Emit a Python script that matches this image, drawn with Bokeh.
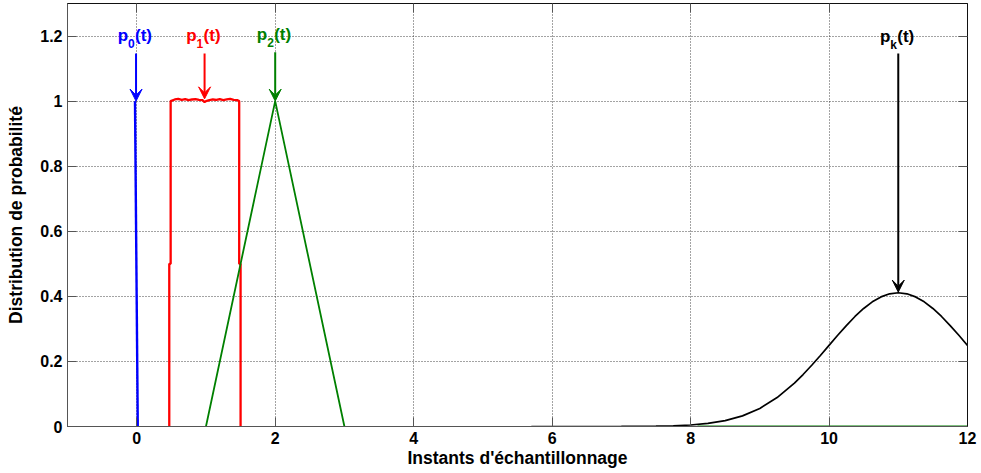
from bokeh.plotting import figure
from bokeh.models import Range1d, FixedTicker, LinearAxis, Arrow, VeeHead
from bokeh.core.properties import value
from bokeh.embed import file_html
from bokeh.resources import INLINE

# ---------------- data ----------------
xticks = [0, 2, 4, 6, 8, 10, 12]
yticks = [0, 0.2, 0.4, 0.6, 0.8, 1, 1.2]
ytick_labels = ["0", "0.2", "0.4", "0.6", "0.8", "1", "1.2"]

# p0(t): narrow spike at t = 0
p0_x = [0.015, -0.025]
p0_y = [0.0, 1.0]

# p1(t): uniform on [0.5, 1.5]
p1_x = [0.47, 0.47, 0.49, 0.49, 0.55, 0.60, 0.65, 0.70, 0.75, 0.80, 0.85, 0.90, 0.95,
        0.98, 1.00, 1.05, 1.10, 1.15, 1.20, 1.25, 1.30, 1.35, 1.40, 1.45, 1.48, 1.48, 1.50, 1.50]
p1_y = [0.0, 0.5, 0.5, 1.0, 1.005, 1.007, 1.004, 1.006, 1.003, 1.005, 1.006, 1.004, 1.003,
        0.997, 1.0, 1.003, 1.005, 1.004, 1.006, 1.003, 1.005, 1.007, 1.004, 1.003, 1.0, 0.5, 0.5, 0.0]

# p2(t): triangle on [1, 3]
p2_x = [1, 2, 3]
p2_y = [0, 1, 0]
p2_tail_x = [8.1, 12]
p2_tail_y = [0, 0]

# pk(t): bell curve around t = 11
pk_x = [5.7, 6.0, 6.5, 7.0, 7.5, 7.75, 8.0, 8.25, 8.5, 8.75, 9.0, 9.25, 9.5, 9.625, 9.75,
        9.875, 10.0, 10.125, 10.25, 10.375, 10.5, 10.625, 10.75, 10.875, 11.0, 11.125,
        11.25, 11.375, 11.5, 11.625, 11.75, 11.875, 12.0]
pk_y = [0.0, 0.0, 0.0, 0.0001, 0.0009, 0.0021, 0.0046, 0.0094, 0.018, 0.0327, 0.0556,
        0.0889, 0.1334, 0.1597, 0.1882, 0.2183, 0.2493, 0.2803, 0.3102, 0.3381, 0.3627,
        0.3831, 0.3983, 0.4078, 0.411, 0.4078, 0.3983, 0.3831, 0.3627, 0.3381, 0.3102,
        0.2803, 0.2493]

# annotations
ann_x = [-0.01, 0.98, 2.0, 11.0]
ann_sub = ["0", "1", "2", "k"]
ann_colors = ["#0000FF", "#FF0000", "#008000", "#000000"]
ann_y_start = [1.146, 1.146, 1.15, 1.146]
ann_y_end = [1.0, 1.007, 1.0, 0.413]
ann_text_y = [1.203, 1.203, 1.205, 1.198]

FONT = "Liberation Sans"

p = figure(width=981, height=473, output_backend="svg", toolbar_location=None,
           x_range=Range1d(-1, 12), y_range=Range1d(0, 1.3),
           min_border_left=67, min_border_right=14, min_border_top=3, min_border_bottom=47)
p.background_fill_color = "white"
p.border_fill_color = "white"
p.outline_line_color = "#111111"
p.outline_line_width = 1

# extra axes for box ticks
p.add_layout(LinearAxis(), "above")
p.add_layout(LinearAxis(), "right")

for ax in p.xaxis:
    ax.ticker = FixedTicker(ticks=xticks)
for ax in p.yaxis:
    ax.ticker = FixedTicker(ticks=yticks)

for ax in list(p.xaxis) + list(p.yaxis):
    ax.major_tick_in = 9
    ax.major_tick_out = 0
    ax.minor_tick_line_color = None
    ax.major_tick_line_color = "#555555"
    ax.axis_line_color = "#555555"
    ax.major_label_text_font = FONT
    ax.major_label_text_font_style = "bold"
    ax.major_label_text_font_size = "16px"
    ax.major_label_text_color = "black"

for ax in (p.above[0], p.right[0]):
    ax.major_label_text_font_size = "0px"
    ax.major_label_standoff = 0
    ax.major_label_overrides = {float(t): "" for t in (xticks if ax in p.above else yticks)}
    ax.axis_line_color = "#111111"

bx = p.below[0]
bx.major_label_standoff = 5
bx.axis_label = "Instants d'échantillonnage"
bx.axis_label_text_font = FONT
bx.axis_label_text_font_style = "bold"
bx.axis_label_text_font_size = "17.5px"
bx.axis_label_standoff = 1
bx.axis_label_text_color = "black"

ly = p.left[0]
ly.major_label_standoff = 5
ly.major_label_overrides = {float(t): s for t, s in zip(yticks, ytick_labels)}
ly.axis_label = "Distribution de probabilité"
ly.axis_label_text_font = FONT
ly.axis_label_text_font_style = "bold"
ly.axis_label_text_font_size = "17.5px"
ly.axis_label_standoff = 11
ly.axis_label_text_color = "black"

for g in (p.xgrid, p.ygrid):
    g.grid_line_color = "#333333"
    g.grid_line_dash = "1 2"
    g.grid_line_width = 1
    g.grid_line_alpha = 0.9

# curves
p.line(p0_x, p0_y, line_color="#0000FF", line_width=2.4)
p.line(p1_x, p1_y, line_color="#FF0000", line_width=2.3)
p.line(p2_x, p2_y, line_color="#008000", line_width=1.8)
p.line(p2_tail_x, p2_tail_y, line_color="#008000", line_width=1.8)
p.line(pk_x, pk_y, line_color="#000000", line_width=1.7)

# arrows and labels
for x, c, ys, ye in zip(ann_x, ann_colors, ann_y_start, ann_y_end):
    p.add_layout(Arrow(x_start=x, y_start=ys, x_end=x, y_end=ye, line_color=c, line_width=2,
                       end=VeeHead(size=12, fill_color=c, line_color=c, line_width=1)))

p.text(x=ann_x, y=ann_text_y, text=["p"] * 4, text_color=ann_colors,
       text_align="right", text_baseline="alphabetic", x_offset=-8,
       text_font=value(FONT), text_font_style="bold", text_font_size="17px")
p.text(x=ann_x, y=ann_text_y, text=ann_sub, text_color=ann_colors,
       text_align="left", text_baseline="alphabetic", x_offset=-8, y_offset=8,
       text_font=value(FONT), text_font_style="bold", text_font_size="12px")
p.text(x=ann_x, y=ann_text_y, text=["(t)"] * 4, text_color=ann_colors,
       text_align="left", text_baseline="alphabetic", x_offset=-1,
       text_font=value(FONT), text_font_style="bold", text_font_size="17px")

open("out.html", "w").write(file_html(p, INLINE))
